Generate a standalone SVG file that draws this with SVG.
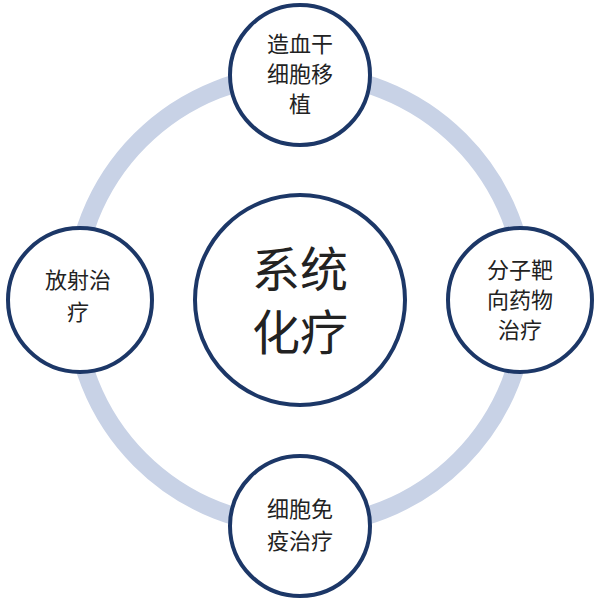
<svg xmlns="http://www.w3.org/2000/svg" width="600" height="601" viewBox="0 0 600 601">
<style>
.n{fill:#fff;stroke:#1c3767;stroke-width:4}
.t{font-family:"Liberation Serif","Noto Sans CJK SC",serif;fill:#222;text-anchor:middle}
.s{font-size:22px}
.b{font-size:48px}
</style>
<rect width="600" height="601" fill="#fff"/>
<g id="connectors"><circle cx="300" cy="300" r="226" fill="none" stroke="#c8d2e6" stroke-width="18"/></g>
<g id="center"><circle class="n" cx="300" cy="300" r="105"/><text class="t b" x="300" y="287">系统</text><text class="t b" x="300" y="350">化疗</text></g>
<g id="top"><circle class="n" cx="300" cy="75" r="70"/><text class="t s" x="300" y="52">造血干</text><text class="t s" x="300" y="82">细胞移</text><text class="t s" x="300" y="112">植</text></g>
<g id="left"><circle class="n" cx="80" cy="300" r="72"/><text class="t s" x="78" y="288">放射治</text><text class="t s" x="78" y="320">疗</text></g>
<g id="right"><circle class="n" cx="520" cy="300" r="72"/><text class="t s" x="520" y="278">分子靶</text><text class="t s" x="520" y="308">向药物</text><text class="t s" x="520" y="338">治疗</text></g>
<g id="bottom"><circle class="n" cx="300" cy="526" r="70"/><text class="t s" x="300" y="517">细胞免</text><text class="t s" x="300" y="549">疫治疗</text></g>
</svg>
